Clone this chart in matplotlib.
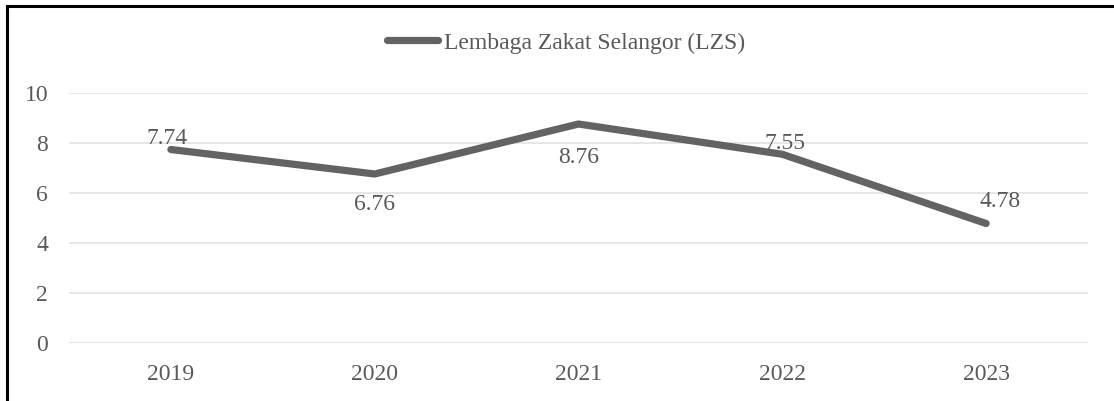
import matplotlib
matplotlib.use("Agg")
import matplotlib.pyplot as plt
from matplotlib.lines import Line2D

years = ["2019", "2020", "2021", "2022", "2023"]
values = [7.74, 6.76, 8.76, 7.55, 4.78]
series_name = "Lembaga Zakat Selangor (LZS)"
yticks = [0, 2, 4, 6, 8, 10]
label_offsets = [(-3, 8), (0, -22), (0, -24), (2, 8), (10, 16)]  # in points

plt.rcParams['font.family'] = ['Liberation Serif', 'DejaVu Serif']
text_color = "#595959"
line_color = "#636363"
fs = 17

fig = plt.figure(figsize=(11.14, 4.01), dpi=100)
ax = fig.add_axes([69/1114, 58/401, (1088-69)/1114, (343-93)/401])

x = list(range(len(years)))
ax.plot(x, values, color=line_color, linewidth=5.2, solid_capstyle="round",
        solid_joinstyle="round", label=series_name, clip_on=False, zorder=3)

for xi, v, (dx, dy) in zip(x, values, label_offsets):
    ax.annotate(f"{v:.2f}", (xi, v), xytext=(dx, dy), textcoords="offset points",
                ha="center", va="center", fontsize=fs, color=text_color, zorder=4)

ax.set_xlim(-0.5, len(years) - 0.5)
ax.set_ylim(0, 10)
ax.set_yticks(yticks)
ax.set_xticks(x)
ax.set_xticklabels(years)
ax.tick_params(axis="both", length=0, labelsize=fs, labelcolor=text_color)
ax.tick_params(axis="y", pad=15)
ax.tick_params(axis="x", pad=15)
ax.grid(axis="y", color="#e4e4e4", linewidth=1.3)
ax.set_axisbelow(True)
for s in ax.spines.values():
    s.set_visible(False)

leg = fig.legend(loc="center", bbox_to_anchor=(566/1114, 1 - 43/401), frameon=False,
                 fontsize=fs, handlelength=2.15, handletextpad=0.25, labelcolor=text_color)
for h in leg.legend_handles:
    h.set_solid_capstyle("round")

# partial frame (left and top edges)
fig.add_artist(Line2D([7/1114, 7/1114], [0, 1 - 6/401], transform=fig.transFigure,
                      color="black", linewidth=2.2))
fig.add_artist(Line2D([7/1114, 1], [1 - 6/401, 1 - 6/401], transform=fig.transFigure,
                      color="black", linewidth=2.2))

fig.savefig("out.png", dpi=100)
